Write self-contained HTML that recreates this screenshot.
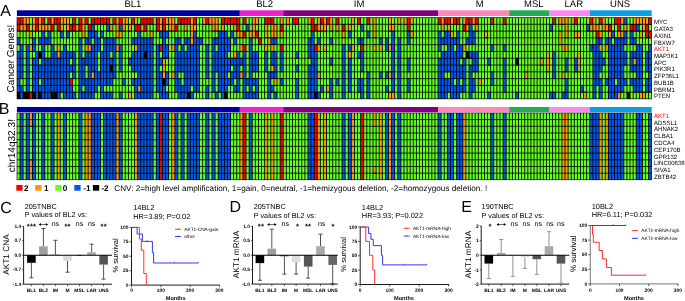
<!DOCTYPE html>
<html><head><meta charset="utf-8"><title>Figure</title>
<style>html,body{margin:0;padding:0;background:#fff;font-family:"Liberation Sans",sans-serif;}svg text{font-family:"Liberation Sans",sans-serif;}svg{will-change:transform;text-rendering:geometricPrecision}</style>
</head><body>
<svg width="685" height="301" viewBox="0 0 685 301" font-family="'Liberation Sans', sans-serif" style="display:block">
<rect width="685" height="301" fill="#fff"/>
<text x="0.2" y="15.7" font-size="16" text-anchor="start" font-weight="normal" fill="#000">A</text>
<rect x="16.9" y="10.3" width="222.95" height="5.7" fill="#0000a0"/>
<rect x="239.85" y="10.3" width="43.35" height="5.7" fill="#ee22cc"/>
<rect x="283.21" y="10.3" width="154.83" height="5.7" fill="#800080"/>
<rect x="438.04" y="10.3" width="71.22" height="5.7" fill="#ff88bb"/>
<rect x="509.26" y="10.3" width="40.26" height="5.7" fill="#22aa55"/>
<rect x="549.51" y="10.3" width="40.26" height="5.7" fill="#ff88ee"/>
<rect x="589.77" y="10.3" width="61.93" height="5.7" fill="#0a9ee2"/>
<rect x="16.7" y="17.3" width="635.2" height="81.9" fill="#000"/>
<path d="M18.45 17.9v12.78M21.54 17.9v5.99M27.74 24.69v5.99M30.83 92.61v5.99M37.03 17.9v12.78M43.22 17.9v5.99M49.41 17.9v5.99M52.51 24.69v5.99M55.61 17.9v5.99M58.7 17.9v12.78M71.09 24.69v5.99M71.09 79.03v5.99M74.19 17.9v12.78M80.38 17.9v12.78M86.57 17.9v5.99M89.67 24.69v5.99M92.77 17.9v5.99M95.86 17.9v5.99M98.96 17.9v5.99M102.06 17.9v5.99M105.15 17.9v5.99M108.25 17.9v5.99M114.44 17.9v5.99M120.64 17.9v5.99M133.02 17.9v5.99M136.12 24.69v5.99M139.22 24.69v5.99M142.31 17.9v5.99M145.41 17.9v12.78M148.5 17.9v5.99M151.6 17.9v5.99M157.79 17.9v12.78M160.89 45.07v5.99M163.99 17.9v12.78M176.37 24.69v5.99M179.47 17.9v5.99M182.57 17.9v5.99M185.66 17.9v5.99M188.76 17.9v5.99M194.95 17.9v5.99M207.34 17.9v5.99M222.82 17.9v5.99M225.92 17.9v5.99M229.02 17.9v5.99M232.11 17.9v5.99M235.21 17.9v5.99M238.31 17.9v12.78M244.5 17.9v5.99M244.5 31.48v5.99M244.5 45.07v5.99M256.89 31.48v5.99M259.98 38.27v5.99M266.18 17.9v5.99M269.27 17.9v5.99M272.37 17.9v5.99M281.66 24.69v5.99M281.66 45.07v5.99M294.04 17.9v5.99M297.14 17.9v5.99M312.62 17.9v12.78M315.72 24.69v5.99M315.72 45.07v5.99M321.91 17.9v5.99M328.11 17.9v5.99M337.4 17.9v5.99M343.59 24.69v5.99M359.07 17.9v5.99M362.17 45.07v5.99M368.36 17.9v5.99M408.62 17.9v12.78M439.58 17.9v5.99M445.78 17.9v5.99M448.87 17.9v5.99M455.07 17.9v5.99M458.16 17.9v5.99M464.36 24.69v5.99M467.45 17.9v5.99M470.55 17.9v5.99M476.74 17.9v5.99M492.23 17.9v5.99M504.61 17.9v5.99M554.16 17.9v5.99M575.83 17.9v5.99M591.32 17.9v5.99M597.51 31.48v5.99M600.61 17.9v5.99M609.9 24.69v5.99M616.09 17.9v5.99M619.19 17.9v12.78M631.57 24.69v5.99M634.67 24.69v5.99M647.06 24.69v12.78M650.15 17.9v5.99M650.15 31.48v5.99" stroke="#ff0000" stroke-width="2.25" fill="none"/>
<path d="M21.54 24.69v5.99M24.64 17.9v12.78M27.74 17.9v5.99M30.83 31.48v5.99M30.83 45.07v5.99M33.93 17.9v12.78M40.12 17.9v12.78M43.22 24.69v5.99M46.32 24.69v5.99M49.41 24.69v5.99M52.51 17.9v5.99M58.7 45.07v12.78M61.8 17.9v12.78M64.9 17.9v5.99M67.99 17.9v12.78M77.28 24.69v5.99M83.48 17.9v19.58M86.57 45.07v5.99M89.67 45.07v5.99M92.77 72.23v5.99M111.35 24.69v5.99M117.54 17.9v19.58M117.54 45.07v5.99M120.64 31.48v5.99M123.73 17.9v12.78M126.83 17.9v5.99M129.93 24.69v5.99M129.93 92.61v5.99M136.12 17.9v5.99M136.12 45.07v5.99M139.22 85.82v5.99M142.31 24.69v5.99M151.6 31.48v5.99M160.89 17.9v12.78M163.99 58.65v19.57M167.08 17.9v5.99M170.18 17.9v12.78M173.28 17.9v12.78M173.28 45.07v5.99M173.28 72.23v5.99M185.66 24.69v5.99M191.86 17.9v26.37M194.95 24.69v5.99M204.24 17.9v5.99M210.44 17.9v5.99M213.53 17.9v12.78M216.63 17.9v12.78M222.82 24.69v5.99M235.21 24.69v5.99M235.21 51.86v5.99M238.31 31.48v5.99M241.4 31.48v5.99M241.4 45.07v5.99M241.4 72.23v5.99M250.69 31.48v5.99M253.79 17.9v19.58M256.89 17.9v5.99M266.18 24.69v12.78M266.18 45.07v5.99M269.27 38.27v5.99M272.37 24.69v12.78M272.37 45.07v5.99M272.37 65.44v5.99M275.46 24.69v12.78M275.46 79.03v5.99M281.66 17.9v5.99M281.66 31.48v5.99M287.85 17.9v5.99M309.53 17.9v5.99M318.82 17.9v12.78M318.82 45.07v5.99M318.82 72.23v5.99M321.91 24.69v5.99M325.01 17.9v12.78M325.01 45.07v5.99M328.11 85.82v5.99M331.2 17.9v12.78M337.4 24.69v5.99M343.59 31.48v5.99M349.78 24.69v5.99M349.78 51.86v5.99M352.88 17.9v5.99M352.88 45.07v5.99M374.56 17.9v19.58M374.56 45.07v5.99M380.75 45.07v5.99M390.04 17.9v12.78M390.04 45.07v5.99M390.04 72.23v5.99M390.04 92.61v5.99M393.14 24.69v5.99M393.14 92.61v5.99M399.33 17.9v5.99M405.52 17.9v5.99M411.71 17.9v5.99M411.71 31.48v5.99M442.68 17.9v12.78M448.87 24.69v5.99M451.97 17.9v5.99M451.97 31.48v5.99M464.36 17.9v5.99M464.36 45.07v5.99M467.45 24.69v5.99M473.65 17.9v5.99M476.74 24.69v5.99M479.84 79.03v5.99M486.03 31.48v5.99M526.29 72.23v5.99M541.77 58.65v5.99M547.96 51.86v19.58M560.35 17.9v5.99M560.35 31.48v12.78M563.45 17.9v5.99M563.45 45.07v5.99M563.45 72.23v5.99M566.54 17.9v19.58M566.54 45.07v5.99M572.74 17.9v5.99M575.83 31.48v5.99M578.93 31.48v5.99M578.93 51.86v19.58M585.12 92.61v5.99M591.32 24.69v5.99M594.41 17.9v12.78M597.51 24.69v5.99M600.61 31.48v5.99M600.61 45.07v5.99M603.7 17.9v12.78M606.8 24.69v5.99M606.8 45.07v5.99M609.9 31.48v5.99M619.19 31.48v5.99M619.19 92.61v5.99M622.28 17.9v5.99M622.28 31.48v5.99M625.38 24.69v5.99M634.67 17.9v5.99M634.67 58.65v5.99M637.77 17.9v5.99M640.86 17.9v5.99M640.86 31.48v5.99M640.86 92.61v5.99M643.96 17.9v12.78M643.96 92.61v5.99M647.06 17.9v5.99" stroke="#ff9900" stroke-width="2.25" fill="none"/>
<path d="M18.45 31.48v5.99M18.45 45.07v5.99M21.54 31.48v12.78M21.54 79.03v5.99M24.64 31.48v60.33M27.74 31.48v12.78M30.83 17.9v12.78M30.83 38.27v5.99M30.83 51.86v39.95M33.93 31.48v5.99M33.93 51.86v5.99M37.03 31.48v19.58M40.12 31.48v5.99M40.12 45.07v5.99M40.12 58.65v5.99M40.12 79.03v5.99M46.32 17.9v5.99M46.32 31.48v5.99M46.32 45.07v12.78M49.41 45.07v12.78M52.51 31.48v12.78M55.61 24.69v26.37M58.7 31.48v12.78M61.8 38.27v12.78M61.8 92.61v5.99M64.9 24.69v19.58M67.99 38.27v12.78M71.09 17.9v5.99M71.09 31.48v19.58M71.09 58.65v5.99M71.09 72.23v5.99M74.19 31.48v19.58M74.19 79.03v12.78M77.28 17.9v5.99M77.28 31.48v67.12M80.38 31.48v5.99M83.48 38.27v19.58M83.48 85.82v5.99M86.57 24.69v12.78M86.57 65.44v12.78M89.67 17.9v5.99M92.77 38.27v5.99M95.86 24.69v5.99M95.86 92.61v5.99M98.96 24.69v12.78M98.96 51.86v19.58M98.96 85.82v12.78M102.06 24.69v5.99M102.06 38.27v12.78M105.15 24.69v12.78M105.15 85.82v5.99M108.25 31.48v5.99M108.25 85.82v5.99M111.35 17.9v5.99M111.35 31.48v5.99M111.35 51.86v5.99M111.35 85.82v5.99M114.44 24.69v12.78M114.44 79.03v19.57M117.54 38.27v5.99M117.54 51.86v46.74M120.64 38.27v5.99M120.64 72.23v19.57M123.73 31.48v46.74M123.73 85.82v12.78M126.83 24.69v73.91M129.93 17.9v5.99M129.93 31.48v26.37M129.93 65.44v26.37M133.02 24.69v12.78M133.02 45.07v5.99M133.02 72.23v5.99M133.02 85.82v12.78M136.12 31.48v5.99M136.12 72.23v5.99M139.22 17.9v5.99M142.31 31.48v5.99M145.41 31.48v5.99M148.5 24.69v12.78M151.6 24.69v5.99M154.7 17.9v80.7M157.79 31.48v12.78M157.79 92.61v5.99M160.89 38.27v5.99M160.89 51.86v5.99M160.89 65.44v5.99M167.08 24.69v5.99M167.08 38.27v5.99M167.08 58.65v12.78M167.08 85.82v5.99M170.18 31.48v67.12M173.28 31.48v12.78M173.28 51.86v19.58M173.28 79.03v19.57M176.37 17.9v5.99M176.37 31.48v5.99M176.37 92.61v5.99M179.47 24.69v12.78M179.47 45.07v5.99M179.47 72.23v5.99M182.57 24.69v19.58M182.57 72.23v12.78M185.66 31.48v5.99M185.66 45.07v5.99M188.76 24.69v12.78M191.86 85.82v5.99M194.95 92.61v5.99M198.05 17.9v19.58M198.05 92.61v5.99M201.15 17.9v19.58M201.15 45.07v53.53M204.24 24.69v73.91M207.34 24.69v19.58M207.34 79.03v5.99M210.44 24.69v73.91M213.53 31.48v5.99M213.53 92.61v5.99M216.63 31.48v5.99M216.63 45.07v5.99M216.63 72.23v19.57M219.73 17.9v12.78M219.73 92.61v5.99M225.92 24.69v5.99M229.02 24.69v12.78M229.02 51.86v5.99M229.02 72.23v5.99M229.02 85.82v12.78M232.11 24.69v5.99M232.11 38.27v19.58M232.11 65.44v5.99M232.11 85.82v12.78M235.21 31.48v5.99M235.21 45.07v5.99M235.21 79.03v5.99M235.21 92.61v5.99M238.31 38.27v12.78M238.31 92.61v5.99M241.4 17.9v12.78M241.4 38.27v5.99M241.4 51.86v5.99M241.4 65.44v5.99M241.4 79.03v19.57M244.5 24.69v5.99M244.5 38.27v5.99M247.6 17.9v5.99M247.6 31.48v46.74M247.6 85.82v5.99M250.69 17.9v12.78M253.79 38.27v12.78M253.79 72.23v5.99M253.79 85.82v5.99M256.89 24.69v5.99M256.89 38.27v12.78M256.89 72.23v5.99M259.98 17.9v19.58M259.98 45.07v53.53M263.08 17.9v80.7M266.18 38.27v5.99M266.18 72.23v26.37M269.27 24.69v12.78M269.27 45.07v26.37M272.37 79.03v5.99M272.37 92.61v5.99M275.46 17.9v5.99M275.46 45.07v5.99M275.46 85.82v5.99M278.56 17.9v80.7M281.66 38.27v5.99M281.66 72.23v5.99M281.66 85.82v12.78M284.75 17.9v80.7M287.85 24.69v73.91M290.95 17.9v80.7M294.04 24.69v73.91M297.14 24.69v26.37M297.14 58.65v5.99M297.14 72.23v5.99M300.24 17.9v80.7M303.33 17.9v80.7M306.43 17.9v80.7M309.53 24.69v12.78M309.53 58.65v5.99M315.72 17.9v5.99M315.72 31.48v12.78M318.82 31.48v5.99M318.82 51.86v19.58M318.82 79.03v12.78M321.91 31.48v53.53M321.91 92.61v5.99M325.01 31.48v12.78M325.01 51.86v46.74M328.11 24.69v60.33M328.11 92.61v5.99M331.2 31.48v5.99M331.2 45.07v12.78M331.2 65.44v12.78M334.3 17.9v80.7M337.4 31.48v46.74M337.4 85.82v12.78M340.49 17.9v80.7M343.59 17.9v5.99M343.59 38.27v5.99M346.69 17.9v80.7M349.78 17.9v5.99M349.78 38.27v5.99M349.78 92.61v5.99M352.88 24.69v19.58M352.88 51.86v46.74M355.98 17.9v80.7M359.07 24.69v12.78M359.07 45.07v5.99M359.07 58.65v19.57M359.07 92.61v5.99M362.17 17.9v5.99M362.17 31.48v5.99M362.17 72.23v5.99M365.27 17.9v80.7M368.36 24.69v5.99M368.36 38.27v33.16M371.46 17.9v80.7M374.56 38.27v5.99M374.56 51.86v46.74M377.65 17.9v80.7M380.75 17.9v19.58M380.75 51.86v19.58M380.75 79.03v19.57M383.85 17.9v80.7M386.94 17.9v19.58M386.94 51.86v19.58M386.94 79.03v5.99M386.94 92.61v5.99M390.04 31.48v12.78M390.04 51.86v19.58M390.04 79.03v12.78M393.14 17.9v5.99M396.23 17.9v80.7M399.33 24.69v12.78M402.42 17.9v80.7M405.52 24.69v73.91M408.62 45.07v12.78M408.62 72.23v5.99M408.62 92.61v5.99M411.71 24.69v5.99M411.71 38.27v60.32M414.81 17.9v80.7M417.91 17.9v80.7M421 17.9v80.7M424.1 17.9v80.7M427.2 17.9v80.7M430.29 17.9v80.7M433.39 17.9v80.7M436.49 17.9v80.7M439.58 24.69v5.99M439.58 51.86v5.99M442.68 31.48v5.99M442.68 45.07v5.99M445.78 24.69v5.99M445.78 45.07v5.99M445.78 72.23v5.99M448.87 72.23v5.99M448.87 92.61v5.99M451.97 24.69v5.99M455.07 24.69v12.78M455.07 45.07v5.99M455.07 79.03v5.99M458.16 24.69v5.99M461.26 17.9v26.37M461.26 58.65v5.99M461.26 79.03v5.99M461.26 92.61v5.99M464.36 31.48v12.78M464.36 51.86v5.99M464.36 92.61v5.99M467.45 31.48v5.99M467.45 45.07v5.99M467.45 58.65v39.95M470.55 45.07v5.99M470.55 58.65v5.99M473.65 24.69v5.99M473.65 45.07v5.99M473.65 72.23v5.99M473.65 92.61v5.99M476.74 31.48v19.58M476.74 72.23v26.37M479.84 17.9v60.32M479.84 85.82v12.78M482.94 17.9v80.7M486.03 17.9v12.78M486.03 38.27v60.32M489.13 17.9v39.95M489.13 65.44v26.37M492.23 24.69v19.58M492.23 51.86v19.58M492.23 85.82v12.78M495.32 17.9v80.7M498.42 17.9v80.7M501.52 17.9v80.7M504.61 24.69v19.58M504.61 51.86v5.99M504.61 92.61v5.99M507.71 17.9v80.7M510.81 17.9v80.7M513.9 17.9v80.7M517 17.9v39.95M517 65.44v26.37M520.1 17.9v80.7M523.19 17.9v80.7M526.29 17.9v53.53M526.29 79.03v19.57M529.38 17.9v80.7M532.48 17.9v80.7M535.58 17.9v80.7M538.67 17.9v80.7M541.77 17.9v39.95M541.77 65.44v33.16M544.87 17.9v80.7M547.96 17.9v33.16M547.96 72.23v26.37M551.06 17.9v5.99M551.06 31.48v60.33M554.16 24.69v26.37M554.16 79.03v12.78M557.25 17.9v80.7M560.35 24.69v5.99M560.35 45.07v53.53M563.45 24.69v19.58M563.45 51.86v19.58M563.45 79.03v12.78M566.54 38.27v5.99M566.54 51.86v5.99M566.54 72.23v5.99M569.64 17.9v80.7M572.74 24.69v73.91M575.83 24.69v5.99M575.83 38.27v19.58M575.83 72.23v26.37M578.93 17.9v12.78M578.93 38.27v12.78M578.93 72.23v26.37M582.03 17.9v67.12M582.03 92.61v5.99M585.12 17.9v73.91M588.22 17.9v5.99M588.22 31.48v67.12M591.32 31.48v12.78M591.32 51.86v46.74M594.41 31.48v12.78M597.51 17.9v5.99M597.51 85.82v12.78M600.61 24.69v5.99M600.61 72.23v5.99M603.7 31.48v26.37M603.7 65.44v33.16M606.8 17.9v5.99M606.8 31.48v5.99M606.8 51.86v26.37M606.8 85.82v12.78M609.9 17.9v5.99M612.99 17.9v12.78M612.99 38.27v5.99M616.09 24.69v12.78M616.09 79.03v5.99M622.28 24.69v5.99M622.28 92.61v5.99M625.38 45.07v5.99M625.38 65.44v12.78M625.38 85.82v12.78M628.48 17.9v73.91M631.57 17.9v5.99M631.57 45.07v5.99M631.57 72.23v5.99M631.57 85.82v12.78M634.67 31.48v5.99M634.67 45.07v5.99M634.67 72.23v5.99M634.67 92.61v5.99M637.77 31.48v12.78M637.77 92.61v5.99M640.86 24.69v5.99M640.86 38.27v5.99M643.96 31.48v60.33M647.06 38.27v12.78M647.06 72.23v5.99M647.06 92.61v5.99M650.15 24.69v5.99M650.15 38.27v5.99M650.15 92.61v5.99" stroke="#66ff22" stroke-width="2.25" fill="none"/>
<path d="M18.45 38.27v5.99M18.45 51.86v39.95M21.54 45.07v33.16M21.54 85.82v12.78M27.74 45.07v46.74M33.93 38.27v12.78M33.93 58.65v33.16M37.03 51.86v46.74M40.12 38.27v5.99M40.12 65.44v12.78M40.12 85.82v5.99M43.22 31.48v67.12M46.32 38.27v5.99M46.32 58.65v39.95M49.41 31.48v12.78M49.41 58.65v39.95M52.51 45.07v46.74M55.61 51.86v39.95M58.7 58.65v39.95M61.8 31.48v5.99M61.8 51.86v39.95M64.9 45.07v53.53M67.99 31.48v5.99M67.99 51.86v46.74M71.09 51.86v5.99M71.09 65.44v5.99M71.09 85.82v12.78M74.19 51.86v26.37M74.19 92.61v5.99M80.38 38.27v60.32M83.48 58.65v26.37M83.48 92.61v5.99M86.57 38.27v5.99M86.57 51.86v12.78M86.57 79.03v19.57M89.67 31.48v12.78M89.67 51.86v46.74M92.77 24.69v12.78M92.77 45.07v26.37M92.77 79.03v19.57M95.86 31.48v60.33M98.96 38.27v12.78M98.96 72.23v12.78M102.06 31.48v5.99M102.06 51.86v46.74M105.15 38.27v46.74M105.15 92.61v5.99M108.25 24.69v5.99M108.25 38.27v46.74M108.25 92.61v5.99M111.35 38.27v12.78M111.35 58.65v5.99M111.35 72.23v12.78M111.35 92.61v5.99M114.44 38.27v39.95M120.64 24.69v5.99M120.64 45.07v26.37M120.64 92.61v5.99M123.73 79.03v5.99M129.93 58.65v5.99M133.02 38.27v5.99M133.02 51.86v19.58M133.02 79.03v5.99M136.12 38.27v5.99M136.12 51.86v19.58M136.12 79.03v19.57M139.22 31.48v53.53M139.22 92.61v5.99M142.31 38.27v60.32M145.41 38.27v12.78M145.41 58.65v39.95M148.5 38.27v60.32M151.6 38.27v60.32M157.79 45.07v46.74M160.89 31.48v5.99M160.89 58.65v5.99M160.89 72.23v26.37M163.99 31.48v26.37M163.99 85.82v12.78M167.08 31.48v5.99M167.08 45.07v12.78M167.08 72.23v12.78M167.08 92.61v5.99M176.37 38.27v53.53M179.47 38.27v5.99M179.47 51.86v19.58M179.47 79.03v19.57M182.57 45.07v26.37M182.57 85.82v12.78M185.66 38.27v5.99M185.66 51.86v46.74M188.76 38.27v53.53M191.86 45.07v39.95M191.86 92.61v5.99M194.95 31.48v60.33M198.05 38.27v53.53M201.15 38.27v5.99M207.34 45.07v33.16M207.34 85.82v12.78M213.53 38.27v53.53M216.63 38.27v5.99M216.63 51.86v19.58M216.63 92.61v5.99M219.73 31.48v60.33M222.82 31.48v67.12M225.92 31.48v60.33M229.02 38.27v12.78M229.02 58.65v12.78M229.02 79.03v5.99M232.11 31.48v5.99M232.11 58.65v5.99M232.11 72.23v12.78M235.21 38.27v5.99M235.21 58.65v19.57M235.21 85.82v5.99M238.31 51.86v39.95M241.4 58.65v5.99M244.5 51.86v46.74M247.6 24.69v5.99M247.6 79.03v5.99M247.6 92.61v5.99M250.69 38.27v60.32M253.79 51.86v19.58M253.79 79.03v5.99M253.79 92.61v5.99M256.89 51.86v19.58M256.89 79.03v19.57M266.18 51.86v19.58M269.27 72.23v26.37M272.37 38.27v5.99M272.37 51.86v12.78M272.37 72.23v5.99M272.37 85.82v5.99M275.46 38.27v5.99M275.46 51.86v26.37M275.46 92.61v5.99M281.66 51.86v19.58M281.66 79.03v5.99M297.14 51.86v5.99M297.14 65.44v5.99M297.14 79.03v19.57M309.53 38.27v19.58M309.53 65.44v33.16M312.62 31.48v67.12M315.72 51.86v39.95M318.82 38.27v5.99M318.82 92.61v5.99M321.91 85.82v5.99M331.2 38.27v5.99M331.2 58.65v5.99M331.2 79.03v19.57M337.4 79.03v5.99M343.59 45.07v53.53M349.78 31.48v5.99M349.78 45.07v5.99M349.78 58.65v33.16M359.07 38.27v5.99M359.07 51.86v5.99M359.07 79.03v12.78M362.17 24.69v5.99M362.17 38.27v5.99M362.17 51.86v19.58M362.17 79.03v19.57M368.36 31.48v5.99M368.36 72.23v26.37M380.75 38.27v5.99M380.75 72.23v5.99M386.94 38.27v12.78M386.94 72.23v5.99M386.94 85.82v5.99M393.14 31.48v60.33M399.33 38.27v60.32M408.62 31.48v12.78M408.62 58.65v12.78M408.62 79.03v12.78M439.58 31.48v19.58M439.58 58.65v39.95M442.68 38.27v5.99M442.68 51.86v46.74M445.78 31.48v12.78M445.78 51.86v19.58M445.78 79.03v19.57M448.87 31.48v39.95M448.87 79.03v12.78M451.97 38.27v60.32M455.07 38.27v5.99M455.07 51.86v26.37M455.07 85.82v12.78M458.16 31.48v67.12M461.26 45.07v12.78M461.26 65.44v12.78M461.26 85.82v5.99M464.36 58.65v33.16M467.45 38.27v5.99M470.55 24.69v19.58M470.55 51.86v5.99M470.55 65.44v33.16M473.65 31.48v12.78M473.65 51.86v19.58M473.65 79.03v12.78M476.74 51.86v19.58M489.13 58.65v5.99M489.13 92.61v5.99M492.23 45.07v5.99M492.23 72.23v12.78M504.61 45.07v5.99M504.61 58.65v33.16M517 92.61v5.99M551.06 24.69v5.99M551.06 92.61v5.99M554.16 51.86v26.37M554.16 92.61v5.99M563.45 92.61v5.99M566.54 58.65v12.78M566.54 79.03v19.57M575.83 58.65v12.78M582.03 85.82v5.99M588.22 24.69v5.99M591.32 45.07v5.99M594.41 45.07v53.53M597.51 38.27v46.74M600.61 38.27v5.99M600.61 51.86v19.58M600.61 79.03v19.57M603.7 58.65v5.99M606.8 38.27v5.99M606.8 79.03v5.99M609.9 38.27v60.32M612.99 31.48v5.99M612.99 45.07v53.53M616.09 38.27v39.95M616.09 85.82v12.78M619.19 38.27v53.53M622.28 38.27v53.53M625.38 17.9v5.99M625.38 31.48v12.78M625.38 51.86v12.78M625.38 79.03v5.99M631.57 31.48v12.78M631.57 51.86v19.58M631.57 79.03v5.99M634.67 38.27v5.99M634.67 51.86v5.99M634.67 65.44v5.99M634.67 79.03v12.78M637.77 24.69v5.99M637.77 45.07v46.74M640.86 45.07v46.74M647.06 51.86v19.58M647.06 79.03v12.78M650.15 45.07v46.74" stroke="#0058f0" stroke-width="2.25" fill="none"/>
<path d="M16.9 24.29H651.7M16.9 31.08H651.7M16.9 37.88H651.7M16.9 44.67H651.7M16.9 51.46H651.7M16.9 58.25H651.7M16.9 65.04H651.7M16.9 71.83H651.7M16.9 78.62H651.7M16.9 85.42H651.7M16.9 92.21H651.7" stroke="#000" stroke-width="0.8" fill="none"/>
<text transform="translate(14.3 58.6) rotate(-90)" font-size="10.05" text-anchor="middle" font-weight="normal">Cancer Genes!</text>
<text x="132.9" y="7.4" font-size="9.5" text-anchor="middle" font-weight="normal" fill="#000">BL1</text>
<text x="264.6" y="7.4" font-size="9.5" text-anchor="middle" font-weight="normal" fill="#000">BL2</text>
<text x="359.1" y="7.4" font-size="9.5" text-anchor="middle" font-weight="normal" fill="#000">IM</text>
<text x="479.6" y="7.4" font-size="9.5" text-anchor="middle" font-weight="normal" fill="#000">M</text>
<text x="533.8" y="7.4" font-size="9.5" text-anchor="middle" font-weight="normal" fill="#000">MSL</text>
<text x="573.8" y="7.4" font-size="9.5" text-anchor="middle" font-weight="normal" fill="#000">LAR</text>
<text x="620.1" y="7.4" font-size="9.5" text-anchor="middle" font-weight="normal" fill="#000">UNS</text>
<text x="654" y="24.3" font-size="6.05" text-anchor="start" font-weight="normal" fill="#000">MYC</text>
<text x="654" y="31.04" font-size="6.05" text-anchor="start" font-weight="normal" fill="#000">GATA3</text>
<text x="654" y="37.78" font-size="6.05" text-anchor="start" font-weight="normal" fill="#000">AXIN1</text>
<text x="654" y="44.52" font-size="6.05" text-anchor="start" font-weight="normal" fill="#000">FBXW7</text>
<text x="654" y="51.26" font-size="6.05" text-anchor="start" font-weight="normal" fill="#ff0000">AKT1</text>
<text x="654" y="58" font-size="6.05" text-anchor="start" font-weight="normal" fill="#000">MAP3K1</text>
<text x="654" y="64.74" font-size="6.05" text-anchor="start" font-weight="normal" fill="#000">APC</text>
<text x="654" y="71.48" font-size="6.05" text-anchor="start" font-weight="normal" fill="#000">PIK3R1</text>
<text x="654" y="78.22" font-size="6.05" text-anchor="start" font-weight="normal" fill="#000">ZFP36L1</text>
<text x="654" y="84.96" font-size="6.05" text-anchor="start" font-weight="normal" fill="#000">BUB1B</text>
<text x="654" y="91.7" font-size="6.05" text-anchor="start" font-weight="normal" fill="#000">PBRM1</text>
<text x="654" y="98.44" font-size="6.05" text-anchor="start" font-weight="normal" fill="#000">PTEN</text>
<text x="-1.2" y="114.1" font-size="16" text-anchor="start" font-weight="normal" fill="#000">B</text>
<rect x="16.9" y="107" width="222.95" height="5.2" fill="#0000a0"/>
<rect x="239.85" y="107" width="43.35" height="5.2" fill="#ee22cc"/>
<rect x="283.21" y="107" width="154.83" height="5.2" fill="#800080"/>
<rect x="438.04" y="107" width="71.22" height="5.2" fill="#ff88bb"/>
<rect x="509.26" y="107" width="40.26" height="5.2" fill="#22aa55"/>
<rect x="549.51" y="107" width="40.26" height="5.2" fill="#ff88ee"/>
<rect x="589.77" y="107" width="61.93" height="5.2" fill="#0a9ee2"/>
<rect x="16.7" y="112.7" width="635.2" height="67.4" fill="#000"/>
<path d="M160.89 113.3v66.2M244.5 113.3v66.2M281.66 113.3v66.2M315.72 113.3v66.2M362.17 113.3v66.2" stroke="#ff0000" stroke-width="2.25" fill="none"/>
<path d="M30.83 113.3v12.6M30.83 160.2v19.3M58.7 113.3v66.2M86.57 113.3v66.2M89.67 113.3v66.2M117.54 113.3v66.2M136.12 113.3v66.2M173.28 113.3v66.2M241.4 113.3v66.2M266.18 113.3v66.2M272.37 113.3v66.2M318.82 113.3v66.2M325.01 113.3v66.2M352.88 113.3v66.2M374.56 113.3v12.6M374.56 166.9v5.9M380.75 113.3v66.2M390.04 113.3v66.2M464.36 113.3v66.2M563.45 113.3v66.2M566.54 113.3v66.2M600.61 113.3v66.2M606.8 113.3v66.2" stroke="#ff9900" stroke-width="2.25" fill="none"/>
<path d="M18.45 113.3v66.2M24.64 113.3v66.2M30.83 126.7v32.7M37.03 113.3v66.2M40.12 113.3v66.2M46.32 113.3v66.2M49.41 113.3v66.2M55.61 113.3v66.2M61.8 113.3v66.2M67.99 113.3v66.2M71.09 113.3v66.2M74.19 113.3v66.2M77.28 113.3v66.2M83.48 113.3v66.2M102.06 113.3v66.2M123.73 113.3v66.2M126.83 113.3v66.2M129.93 113.3v66.2M133.02 113.3v66.2M154.7 113.3v66.2M170.18 113.3v66.2M179.47 113.3v66.2M185.66 113.3v66.2M201.15 113.3v66.2M204.24 113.3v66.2M210.44 113.3v66.2M216.63 113.3v66.2M232.11 113.3v66.2M235.21 113.3v66.2M238.31 113.3v66.2M247.6 113.3v66.2M253.79 113.3v66.2M256.89 113.3v66.2M259.98 113.3v66.2M263.08 113.3v66.2M269.27 113.3v66.2M275.46 113.3v66.2M278.56 113.3v66.2M284.75 113.3v66.2M287.85 113.3v66.2M290.95 113.3v66.2M294.04 113.3v66.2M297.14 113.3v66.2M300.24 113.3v66.2M303.33 113.3v66.2M306.43 113.3v66.2M321.91 113.3v66.2M328.11 113.3v66.2M331.2 113.3v66.2M334.3 113.3v66.2M337.4 113.3v66.2M340.49 113.3v66.2M346.69 113.3v66.2M355.98 113.3v66.2M359.07 113.3v66.2M365.27 113.3v66.2M368.36 113.3v66.2M371.46 113.3v66.2M374.56 126.7v39.4M374.56 173.6v5.9M377.65 113.3v66.2M383.85 113.3v66.2M396.23 113.3v66.2M402.42 113.3v66.2M405.52 113.3v66.2M408.62 113.3v66.2M411.71 113.3v66.2M414.81 113.3v66.2M417.91 113.3v66.2M421 113.3v66.2M424.1 113.3v66.2M427.2 113.3v66.2M430.29 113.3v66.2M433.39 113.3v66.2M436.49 113.3v66.2M442.68 113.3v66.2M445.78 113.3v66.2M455.07 113.3v66.2M467.45 113.3v66.2M470.55 113.3v66.2M473.65 113.3v66.2M476.74 113.3v66.2M479.84 113.3v66.2M482.94 113.3v66.2M486.03 113.3v66.2M489.13 113.3v66.2M495.32 113.3v66.2M498.42 113.3v66.2M501.52 113.3v66.2M507.71 113.3v66.2M510.81 113.3v66.2M513.9 113.3v66.2M517 113.3v66.2M520.1 113.3v66.2M523.19 113.3v66.2M526.29 113.3v66.2M529.38 113.3v66.2M532.48 113.3v66.2M535.58 113.3v66.2M538.67 113.3v66.2M541.77 113.3v66.2M544.87 113.3v66.2M547.96 113.3v66.2M551.06 113.3v66.2M554.16 113.3v66.2M557.25 113.3v66.2M560.35 113.3v66.2M569.64 113.3v66.2M572.74 113.3v66.2M575.83 113.3v66.2M578.93 113.3v66.2M582.03 113.3v66.2M585.12 113.3v66.2M588.22 113.3v66.2M603.7 113.3v66.2M625.38 113.3v66.2M628.48 113.3v66.2M631.57 113.3v66.2M634.67 113.3v66.2M643.96 113.3v66.2M647.06 113.3v66.2" stroke="#66ff22" stroke-width="2.25" fill="none"/>
<path d="M21.54 113.3v66.2M27.74 113.3v66.2M33.93 113.3v66.2M43.22 113.3v66.2M52.51 113.3v66.2M64.9 113.3v66.2M80.38 113.3v66.2M92.77 113.3v66.2M95.86 113.3v66.2M98.96 113.3v66.2M105.15 113.3v66.2M108.25 113.3v66.2M111.35 113.3v66.2M114.44 113.3v66.2M120.64 113.3v66.2M139.22 113.3v66.2M142.31 113.3v66.2M145.41 113.3v66.2M148.5 113.3v66.2M151.6 113.3v66.2M157.79 113.3v66.2M163.99 113.3v66.2M167.08 113.3v66.2M176.37 113.3v66.2M182.57 113.3v66.2M188.76 113.3v66.2M191.86 113.3v66.2M194.95 113.3v66.2M198.05 113.3v66.2M207.34 113.3v66.2M213.53 113.3v66.2M219.73 113.3v66.2M222.82 113.3v66.2M225.92 113.3v66.2M229.02 113.3v66.2M250.69 113.3v66.2M309.53 113.3v66.2M312.62 113.3v66.2M343.59 113.3v66.2M349.78 113.3v66.2M386.94 113.3v66.2M393.14 113.3v66.2M399.33 113.3v66.2M439.58 113.3v66.2M448.87 113.3v66.2M451.97 113.3v66.2M458.16 113.3v66.2M461.26 113.3v66.2M492.23 113.3v66.2M504.61 113.3v66.2M591.32 113.3v66.2M594.41 113.3v66.2M597.51 113.3v66.2M609.9 113.3v66.2M612.99 113.3v66.2M616.09 113.3v66.2M619.19 113.3v66.2M622.28 113.3v66.2M637.77 113.3v66.2M640.86 113.3v66.2M650.15 113.3v66.2" stroke="#0058f0" stroke-width="2.25" fill="none"/>
<path d="M16.9 119.6H651.7M16.9 126.3H651.7M16.9 133H651.7M16.9 139.7H651.7M16.9 146.4H651.7M16.9 153.1H651.7M16.9 159.8H651.7M16.9 166.5H651.7M16.9 173.2H651.7" stroke="#000" stroke-width="0.8" fill="none"/>
<text transform="translate(14.5 145.7) rotate(-90)" font-size="10.1" text-anchor="middle" font-weight="normal">chr14q32.3!</text>
<text x="654" y="117.9" font-size="6.05" text-anchor="start" font-weight="normal" fill="#ff0000">AKT1</text>
<text x="654" y="124.67" font-size="6.05" text-anchor="start" font-weight="normal" fill="#000">ADSSL1</text>
<text x="654" y="131.44" font-size="6.05" text-anchor="start" font-weight="normal" fill="#000">AHNAK2</text>
<text x="654" y="138.21" font-size="6.05" text-anchor="start" font-weight="normal" fill="#000">CLBA1</text>
<text x="654" y="144.98" font-size="6.05" text-anchor="start" font-weight="normal" fill="#000">CDCA4</text>
<text x="654" y="151.75" font-size="6.05" text-anchor="start" font-weight="normal" fill="#000">CEP170B</text>
<text x="654" y="158.52" font-size="6.05" text-anchor="start" font-weight="normal" fill="#000">GPR132</text>
<text x="654" y="165.29" font-size="6.05" text-anchor="start" font-weight="normal" fill="#000">LINC00638</text>
<text x="654" y="172.06" font-size="6.05" text-anchor="start" font-weight="normal" fill="#000">SIVA1</text>
<text x="654" y="178.83" font-size="6.05" text-anchor="start" font-weight="normal" fill="#000">ZBTB42</text>
<rect x="16.3" y="185" width="6.3" height="5.7" fill="#ff0000"/>
<text x="23.9" y="190.7" font-size="8.2" text-anchor="start" font-weight="bold" fill="#000">2</text>
<rect x="35.2" y="185" width="6.3" height="5.7" fill="#ff9900"/>
<text x="44" y="190.7" font-size="8.2" text-anchor="start" font-weight="bold" fill="#000">1</text>
<rect x="55.3" y="185" width="6.3" height="5.7" fill="#66ff22"/>
<text x="62.7" y="190.7" font-size="8.2" text-anchor="start" font-weight="bold" fill="#000">0</text>
<rect x="74.3" y="185" width="6.3" height="5.7" fill="#0058f0"/>
<text x="83.3" y="190.7" font-size="8.2" text-anchor="start" font-weight="bold" fill="#000">-1</text>
<rect x="92.9" y="185" width="6.3" height="5.7" fill="#000"/>
<text x="101.4" y="190.7" font-size="8.2" text-anchor="start" font-weight="bold" fill="#000">-2</text>
<text x="114.3" y="190.6" font-size="8.18" text-anchor="start" font-weight="normal" fill="#000">CNV: 2=high level amplification, 1=gain, 0=neutral, -1=hemizygous deletion, -2=homozygous deletion. !</text>
<text x="0.2" y="213" font-size="16" text-anchor="start" font-weight="normal" fill="#000">C</text>
<text x="24.7" y="209" font-size="7.3" text-anchor="start" font-weight="normal" fill="#000">205TNBC</text>
<text x="24.7" y="217.4" font-size="7.3" text-anchor="start" font-weight="normal" fill="#000">P values of BL2 vs:</text>
<text transform="translate(9.3 254.5) rotate(-90)" font-size="8.3" text-anchor="middle" font-weight="normal">AKT1 CNA</text>
<path d="M23.6 226.1V284.2H112" stroke="#000" stroke-width="0.9" fill="none"/>
<path d="M22 226.3H23.6" stroke="#000" stroke-width="0.6"/>
<text x="21.2" y="227.95" font-size="4.9" text-anchor="end" font-weight="bold" fill="#000">1.4</text>
<path d="M22 240.7H23.6" stroke="#000" stroke-width="0.6"/>
<text x="21.2" y="242.35" font-size="4.9" text-anchor="end" font-weight="bold" fill="#000">0.7</text>
<path d="M22 255.2H23.6" stroke="#000" stroke-width="0.6"/>
<text x="21.2" y="256.85" font-size="4.9" text-anchor="end" font-weight="bold" fill="#000">0.0</text>
<path d="M22 269.6H23.6" stroke="#000" stroke-width="0.6"/>
<text x="21.2" y="271.25" font-size="4.9" text-anchor="end" font-weight="bold" fill="#000">-0.7</text>
<path d="M22 284.2H23.6" stroke="#000" stroke-width="0.6"/>
<text x="21.2" y="285.85" font-size="4.9" text-anchor="end" font-weight="bold" fill="#000">-1.4</text>
<path d="M31.4 262.8V277.8M29.4 277.8H33.4" stroke="#333" stroke-width="0.85" fill="none"/>
<rect x="27.1" y="255.2" width="8.6" height="7.6" fill="#000"/>
<path d="M31.4 284.2v2" stroke="#000" stroke-width="0.6"/>
<text x="31.4" y="291.8" font-size="4.9" text-anchor="middle" font-weight="bold" fill="#000">BL1</text>
<text x="28.2" y="228.5" font-size="7.6" text-anchor="middle" font-weight="bold" fill="#000">*</text>
<text x="31.4" y="228.5" font-size="7.6" text-anchor="middle" font-weight="bold" fill="#000">*</text>
<text x="34.6" y="228.5" font-size="7.6" text-anchor="middle" font-weight="bold" fill="#000">*</text>
<path d="M43.4 246.3V228.5M41.4 228.5H45.4" stroke="#333" stroke-width="0.85" fill="none"/>
<rect x="39.1" y="246.3" width="8.6" height="8.9" fill="#9e9ea3"/>
<path d="M43.4 284.2v2" stroke="#000" stroke-width="0.6"/>
<text x="43.4" y="291.8" font-size="4.9" text-anchor="middle" font-weight="bold" fill="#000">BL2</text>
<path d="M39.8 224.5H47" stroke="#000" stroke-width="0.6"/><path d="M38.7 224.5l2.2 -1.5v3zM48.1 224.5l-2.2 -1.5v3z" fill="#000"/>
<path d="M55.4 254.6V240.3M53.4 240.3H57.4" stroke="#333" stroke-width="0.85" fill="none"/>
<rect x="51.1" y="254.6" width="8.6" height="0.6" fill="#888"/>
<path d="M55.4 284.2v2" stroke="#000" stroke-width="0.6"/>
<text x="55.4" y="291.8" font-size="4.9" text-anchor="middle" font-weight="bold" fill="#000">IM</text>
<text x="55.4" y="225.8" font-size="7" text-anchor="middle" font-weight="normal" fill="#000">ns</text>
<path d="M67.5 260.9V272.2M65.5 272.2H69.5" stroke="#333" stroke-width="0.85" fill="none"/>
<rect x="63.2" y="255.2" width="8.6" height="5.7" fill="#dcdcdc"/>
<path d="M67.5 284.2v2" stroke="#000" stroke-width="0.6"/>
<text x="67.5" y="291.8" font-size="4.9" text-anchor="middle" font-weight="bold" fill="#000">M</text>
<text x="65.9" y="228.5" font-size="7.6" text-anchor="middle" font-weight="bold" fill="#000">*</text>
<text x="69.1" y="228.5" font-size="7.6" text-anchor="middle" font-weight="bold" fill="#000">*</text>
<path d="M79.5 255.4V255.4M77.5 255.4H81.5" stroke="#333" stroke-width="0.85" fill="none"/>
<rect x="75.2" y="255.2" width="8.6" height="0.3" fill="#888"/>
<path d="M79.5 284.2v2" stroke="#000" stroke-width="0.6"/>
<text x="79.5" y="291.8" font-size="4.9" text-anchor="middle" font-weight="bold" fill="#000">MSL</text>
<text x="79.5" y="225.8" font-size="7" text-anchor="middle" font-weight="normal" fill="#000">ns</text>
<path d="M91.6 252.2V244.2M89.6 244.2H93.6" stroke="#333" stroke-width="0.85" fill="none"/>
<rect x="87.3" y="252.2" width="8.6" height="3" fill="#aaaaaa"/>
<path d="M91.6 284.2v2" stroke="#000" stroke-width="0.6"/>
<text x="91.6" y="291.8" font-size="4.9" text-anchor="middle" font-weight="bold" fill="#000">LAR</text>
<text x="91.6" y="225.8" font-size="7" text-anchor="middle" font-weight="normal" fill="#000">ns</text>
<path d="M103.6 264.6V279.1M101.6 279.1H105.6" stroke="#333" stroke-width="0.85" fill="none"/>
<rect x="99.3" y="255.2" width="8.6" height="9.4" fill="#555"/>
<path d="M103.6 284.2v2" stroke="#000" stroke-width="0.6"/>
<text x="103.6" y="291.8" font-size="4.9" text-anchor="middle" font-weight="bold" fill="#000">UNS</text>
<text x="102" y="228.5" font-size="7.6" text-anchor="middle" font-weight="bold" fill="#000">*</text>
<text x="105.2" y="228.5" font-size="7.6" text-anchor="middle" font-weight="bold" fill="#000">*</text>
<path d="M23.6 255.2H112" stroke="#000" stroke-width="1.1"/>
<text x="229.6" y="212.2" font-size="16" text-anchor="start" font-weight="normal" fill="#000">D</text>
<text x="253.7" y="209" font-size="7.3" text-anchor="start" font-weight="normal" fill="#000">205TNBC</text>
<text x="253.7" y="217.9" font-size="7.3" text-anchor="start" font-weight="normal" fill="#000">P values of BL2 vs:</text>
<text transform="translate(238.7 254.5) rotate(-90)" font-size="8.3" text-anchor="middle" font-weight="normal">AKT1 mRNA</text>
<path d="M252.5 226V284.1H337.8" stroke="#000" stroke-width="0.9" fill="none"/>
<path d="M250.9 226.2H252.5" stroke="#000" stroke-width="0.6"/>
<text x="250.1" y="227.85" font-size="4.9" text-anchor="end" font-weight="bold" fill="#000">1.0</text>
<path d="M250.9 240.7H252.5" stroke="#000" stroke-width="0.6"/>
<text x="250.1" y="242.35" font-size="4.9" text-anchor="end" font-weight="bold" fill="#000">0.5</text>
<path d="M250.9 255.2H252.5" stroke="#000" stroke-width="0.6"/>
<text x="250.1" y="256.85" font-size="4.9" text-anchor="end" font-weight="bold" fill="#000">0.0</text>
<path d="M250.9 269.6H252.5" stroke="#000" stroke-width="0.6"/>
<text x="250.1" y="271.25" font-size="4.9" text-anchor="end" font-weight="bold" fill="#000">-0.5</text>
<path d="M250.9 284.1H252.5" stroke="#000" stroke-width="0.6"/>
<text x="250.1" y="285.75" font-size="4.9" text-anchor="end" font-weight="bold" fill="#000">-1.0</text>
<path d="M259.9 263.1V280.3M257.9 280.3H261.9" stroke="#333" stroke-width="0.85" fill="none"/>
<rect x="255.6" y="255.2" width="8.6" height="7.9" fill="#000"/>
<path d="M259.9 284.1v2" stroke="#000" stroke-width="0.6"/>
<text x="259.9" y="291.8" font-size="4.9" text-anchor="middle" font-weight="bold" fill="#000">BL1</text>
<text x="259.3" y="228.5" font-size="7.6" text-anchor="middle" font-weight="bold" fill="#000">*</text>
<text x="262.5" y="228.5" font-size="7.6" text-anchor="middle" font-weight="bold" fill="#000">*</text>
<path d="M271.8 248.7V229.2M269.8 229.2H273.8" stroke="#333" stroke-width="0.85" fill="none"/>
<rect x="267.5" y="248.7" width="8.6" height="6.5" fill="#9e9ea3"/>
<path d="M271.8 284.1v2" stroke="#000" stroke-width="0.6"/>
<text x="271.8" y="291.8" font-size="4.9" text-anchor="middle" font-weight="bold" fill="#000">BL2</text>
<path d="M268.3 224.5H275.5" stroke="#000" stroke-width="0.6"/><path d="M267.2 224.5l2.2 -1.5v3zM276.6 224.5l-2.2 -1.5v3z" fill="#000"/>
<path d="M284.4 256.3V274.1M282.4 274.1H286.4" stroke="#333" stroke-width="0.85" fill="none"/>
<rect x="280.1" y="255.2" width="8.6" height="1.1" fill="#444"/>
<path d="M284.4 284.1v2" stroke="#000" stroke-width="0.6"/>
<text x="284.4" y="291.8" font-size="4.9" text-anchor="middle" font-weight="bold" fill="#000">IM</text>
<text x="285.2" y="225.8" font-size="7" text-anchor="middle" font-weight="normal" fill="#000">ns</text>
<path d="M296.1 261.9V274.1M294.1 274.1H298.1" stroke="#333" stroke-width="0.85" fill="none"/>
<rect x="291.8" y="255.2" width="8.6" height="6.7" fill="#dedede"/>
<path d="M296.1 284.1v2" stroke="#000" stroke-width="0.6"/>
<text x="296.1" y="291.8" font-size="4.9" text-anchor="middle" font-weight="bold" fill="#000">M</text>
<text x="297.6" y="228.5" font-size="7.6" text-anchor="middle" font-weight="bold" fill="#000">*</text>
<path d="M308.2 266.6V278.1M306.2 278.1H310.2" stroke="#333" stroke-width="0.85" fill="none"/>
<rect x="303.9" y="255.2" width="8.6" height="11.4" fill="#555"/>
<path d="M308.2 284.1v2" stroke="#000" stroke-width="0.6"/>
<text x="308.2" y="291.8" font-size="4.9" text-anchor="middle" font-weight="bold" fill="#000">MSL</text>
<text x="306.4" y="228.5" font-size="7.6" text-anchor="middle" font-weight="bold" fill="#000">*</text>
<text x="309.6" y="228.5" font-size="7.6" text-anchor="middle" font-weight="bold" fill="#000">*</text>
<path d="M320.5 246.2V234.2M318.5 234.2H322.5" stroke="#333" stroke-width="0.85" fill="none"/>
<rect x="316.2" y="246.2" width="8.6" height="9" fill="#aaaaaa"/>
<path d="M320.5 284.1v2" stroke="#000" stroke-width="0.6"/>
<text x="320.5" y="291.8" font-size="4.9" text-anchor="middle" font-weight="bold" fill="#000">LAR</text>
<text x="321.6" y="225.8" font-size="7" text-anchor="middle" font-weight="normal" fill="#000">ns</text>
<path d="M332.7 264.9V283.6M330.7 283.6H334.7" stroke="#333" stroke-width="0.85" fill="none"/>
<rect x="328.4" y="255.2" width="8.6" height="9.7" fill="#666"/>
<path d="M332.7 284.1v2" stroke="#000" stroke-width="0.6"/>
<text x="332.7" y="291.8" font-size="4.9" text-anchor="middle" font-weight="bold" fill="#000">UNS</text>
<text x="333.1" y="228.5" font-size="7.6" text-anchor="middle" font-weight="bold" fill="#000">*</text>
<path d="M252.5 255.2H337.8" stroke="#000" stroke-width="1.1"/>
<text x="461.2" y="211.8" font-size="16" text-anchor="start" font-weight="normal" fill="#000">E</text>
<text x="481.6" y="209" font-size="7.3" text-anchor="start" font-weight="normal" fill="#000">190TNBC</text>
<text x="481.6" y="218.2" font-size="7.3" text-anchor="start" font-weight="normal" fill="#000">P values of BL2 vs:</text>
<text transform="translate(471 254.5) rotate(-90)" font-size="8.3" text-anchor="middle" font-weight="normal">AKT1 mRNA</text>
<path d="M481.2 225.8V284.1H569.3" stroke="#000" stroke-width="0.9" fill="none"/>
<path d="M479.6 226H481.2" stroke="#000" stroke-width="0.6"/>
<text x="478.8" y="227.65" font-size="4.9" text-anchor="end" font-weight="bold" fill="#000">2</text>
<path d="M479.6 240.7H481.2" stroke="#000" stroke-width="0.6"/>
<text x="478.8" y="242.35" font-size="4.9" text-anchor="end" font-weight="bold" fill="#000">1</text>
<path d="M479.6 255.2H481.2" stroke="#000" stroke-width="0.6"/>
<text x="478.8" y="256.85" font-size="4.9" text-anchor="end" font-weight="bold" fill="#000">0</text>
<path d="M479.6 269.9H481.2" stroke="#000" stroke-width="0.6"/>
<text x="478.8" y="271.55" font-size="4.9" text-anchor="end" font-weight="bold" fill="#000">-1</text>
<path d="M479.6 284.1H481.2" stroke="#000" stroke-width="0.6"/>
<text x="478.8" y="285.75" font-size="4.9" text-anchor="end" font-weight="bold" fill="#000">-2</text>
<path d="M488.8 263.6V278.6M486.8 278.6H490.8" stroke="#8c8c8c" stroke-width="0.95" fill="none"/>
<rect x="484.5" y="255.2" width="8.6" height="8.4" fill="#000"/>
<path d="M488.8 284.1v2" stroke="#000" stroke-width="0.6"/>
<text x="488.8" y="291.8" font-size="4.9" text-anchor="middle" font-weight="bold" fill="#000">BL1</text>
<text x="489.9" y="228.5" font-size="7.6" text-anchor="middle" font-weight="bold" fill="#000">*</text>
<path d="M501.2 252.9V239.5M499.2 239.5H503.2" stroke="#8c8c8c" stroke-width="0.95" fill="none"/>
<rect x="496.9" y="252.9" width="8.6" height="2.3" fill="#aaaaae"/>
<path d="M501.2 284.1v2" stroke="#000" stroke-width="0.6"/>
<text x="501.2" y="291.8" font-size="4.9" text-anchor="middle" font-weight="bold" fill="#000">BL2</text>
<path d="M497.7 224.5H504.9" stroke="#000" stroke-width="0.6"/><path d="M496.6 224.5l2.2 -1.5v3zM506 224.5l-2.2 -1.5v3z" fill="#000"/>
<path d="M512.9 256V276.4M510.9 276.4H514.9" stroke="#8c8c8c" stroke-width="0.95" fill="none"/>
<rect x="508.6" y="255.2" width="8.6" height="0.8" fill="#ddd"/>
<path d="M512.9 284.1v2" stroke="#000" stroke-width="0.6"/>
<text x="512.9" y="291.8" font-size="4.9" text-anchor="middle" font-weight="bold" fill="#000">IM</text>
<text x="514.3" y="225.8" font-size="7" text-anchor="middle" font-weight="normal" fill="#000">ns</text>
<path d="M524.9 257.4V268.4M522.9 268.4H526.9" stroke="#8c8c8c" stroke-width="0.95" fill="none"/>
<rect x="520.6" y="255.2" width="8.6" height="2.2" fill="#ddd"/>
<path d="M524.9 284.1v2" stroke="#000" stroke-width="0.6"/>
<text x="524.9" y="291.8" font-size="4.9" text-anchor="middle" font-weight="bold" fill="#000">M</text>
<text x="526.3" y="225.8" font-size="7" text-anchor="middle" font-weight="normal" fill="#000">ns</text>
<path d="M536.8 259.2V274.4M534.8 274.4H538.8" stroke="#8c8c8c" stroke-width="0.95" fill="none"/>
<rect x="532.5" y="255.2" width="8.6" height="4" fill="#555"/>
<path d="M536.8 284.1v2" stroke="#000" stroke-width="0.6"/>
<text x="536.8" y="291.8" font-size="4.9" text-anchor="middle" font-weight="bold" fill="#000">MSL</text>
<text x="538.2" y="225.8" font-size="7" text-anchor="middle" font-weight="normal" fill="#000">ns</text>
<path d="M549 246.2V231.7M547 231.7H551" stroke="#8c8c8c" stroke-width="0.95" fill="none"/>
<rect x="544.7" y="246.2" width="8.6" height="9" fill="#aaaaaa"/>
<path d="M549 284.1v2" stroke="#000" stroke-width="0.6"/>
<text x="549" y="291.8" font-size="4.9" text-anchor="middle" font-weight="bold" fill="#000">LAR</text>
<text x="549.9" y="225.8" font-size="7" text-anchor="middle" font-weight="normal" fill="#000">ns</text>
<path d="M561 263.6V283.1M559 283.1H563" stroke="#8c8c8c" stroke-width="0.95" fill="none"/>
<rect x="556.7" y="255.2" width="8.6" height="8.4" fill="#555"/>
<path d="M561 284.1v2" stroke="#000" stroke-width="0.6"/>
<text x="561" y="291.8" font-size="4.9" text-anchor="middle" font-weight="bold" fill="#000">UNS</text>
<text x="560.8" y="225.8" font-size="7" text-anchor="middle" font-weight="normal" fill="#000">ns</text>
<path d="M481.2 255.2H569.3" stroke="#000" stroke-width="1.1"/>
<text x="133.2" y="210.3" font-size="7.4" text-anchor="start" font-weight="normal" fill="#000">14BL2</text>
<text x="133.2" y="218.8" font-size="7.4" text-anchor="start" font-weight="normal" fill="#000">HR=3.89; P=0.02</text>
<text transform="translate(118.2 255.4) rotate(-90)" font-size="7.5" text-anchor="middle" font-weight="normal">% survival</text>
<path d="M131.5 227.2V285.1H219.9" stroke="#000" stroke-width="0.9" fill="none"/>
<path d="M129.3 227.4H131.5" stroke="#000" stroke-width="0.6"/>
<text x="128.5" y="229.05" font-size="4.9" text-anchor="end" font-weight="bold" fill="#000">100</text>
<path d="M129.3 241.83H131.5" stroke="#000" stroke-width="0.6"/>
<text x="128.5" y="243.48" font-size="4.9" text-anchor="end" font-weight="bold" fill="#000">75</text>
<path d="M129.3 256.25H131.5" stroke="#000" stroke-width="0.6"/>
<text x="128.5" y="257.9" font-size="4.9" text-anchor="end" font-weight="bold" fill="#000">50</text>
<path d="M129.3 270.68H131.5" stroke="#000" stroke-width="0.6"/>
<text x="128.5" y="272.32" font-size="4.9" text-anchor="end" font-weight="bold" fill="#000">25</text>
<path d="M129.3 285.1H131.5" stroke="#000" stroke-width="0.6"/>
<text x="128.5" y="286.75" font-size="4.9" text-anchor="end" font-weight="bold" fill="#000">0</text>
<path d="M131.5 285.1v2.2" stroke="#000" stroke-width="0.6"/>
<text x="131.5" y="292" font-size="4.9" text-anchor="middle" font-weight="bold" fill="#000">0</text>
<path d="M160.8 285.1v2.2" stroke="#000" stroke-width="0.6"/>
<text x="160.8" y="292" font-size="4.9" text-anchor="middle" font-weight="bold" fill="#000">100</text>
<path d="M190.1 285.1v2.2" stroke="#000" stroke-width="0.6"/>
<text x="190.1" y="292" font-size="4.9" text-anchor="middle" font-weight="bold" fill="#000">200</text>
<path d="M219.4 285.1v2.2" stroke="#000" stroke-width="0.6"/>
<text x="219.4" y="292" font-size="4.9" text-anchor="middle" font-weight="bold" fill="#000">300</text>
<text x="175.7" y="300.4" font-size="5.6" text-anchor="middle" font-weight="bold" fill="#000">Months</text>
<path d="M131.5 227.4 L137.1 227.4 L137.1 234 L142.4 234 L142.4 241.4 L152.4 241.4 L152.4 252.6 L153.6 252.6 L153.6 263 L198.3 263" stroke="#2a2aff" stroke-width="0.95" fill="none" stroke-linejoin="miter"/><path d="M174.3 263.2v-1.4" stroke="#2a2aff" stroke-width="0.7"/><path d="M198.3 263.2v-1.4" stroke="#2a2aff" stroke-width="0.7"/><path d="M147 241.6v-1.4" stroke="#2a2aff" stroke-width="0.7"/>
<path d="M131.5 227.4 L139.4 227.4 L139.4 239 L141.3 239 L141.3 250.2 L143.8 250.2 L143.8 273.5 L146.3 273.5 L146.3 285.1" stroke="#ff2020" stroke-width="0.95" fill="none" stroke-linejoin="miter"/>
<path d="M175 229.3h6.0" stroke="#ff2020" stroke-width="0.9"/>
<path d="M178 229.3v-0.9" stroke="#ff2020" stroke-width="0.8"/>
<text x="184.3" y="230.95" font-size="4.75" text-anchor="start" font-weight="normal" fill="#000">AKT1-CNA-gain</text>
<path d="M175 236.5h6.0" stroke="#2a2aff" stroke-width="0.9"/>
<path d="M178 236.5v-0.9" stroke="#2a2aff" stroke-width="0.8"/>
<text x="184.3" y="238.15" font-size="4.75" text-anchor="start" font-weight="normal" fill="#000">other</text>
<text x="361.8" y="209.8" font-size="7.4" text-anchor="start" font-weight="normal" fill="#000">14BL2</text>
<text x="361.8" y="217.9" font-size="7.4" text-anchor="start" font-weight="normal" fill="#000">HR=3.93; P=0.022</text>
<text transform="translate(346.3 254.4) rotate(-90)" font-size="7.6" text-anchor="middle" font-weight="normal">% survival</text>
<path d="M360.2 226.8V284.5H449.2" stroke="#000" stroke-width="0.9" fill="none"/>
<path d="M358 227H360.2" stroke="#000" stroke-width="0.6"/>
<text x="357.2" y="228.65" font-size="4.9" text-anchor="end" font-weight="bold" fill="#000">100</text>
<path d="M358 241.38H360.2" stroke="#000" stroke-width="0.6"/>
<text x="357.2" y="243.03" font-size="4.9" text-anchor="end" font-weight="bold" fill="#000">75</text>
<path d="M358 255.75H360.2" stroke="#000" stroke-width="0.6"/>
<text x="357.2" y="257.4" font-size="4.9" text-anchor="end" font-weight="bold" fill="#000">50</text>
<path d="M358 270.12H360.2" stroke="#000" stroke-width="0.6"/>
<text x="357.2" y="271.77" font-size="4.9" text-anchor="end" font-weight="bold" fill="#000">25</text>
<path d="M358 284.5H360.2" stroke="#000" stroke-width="0.6"/>
<text x="357.2" y="286.15" font-size="4.9" text-anchor="end" font-weight="bold" fill="#000">0</text>
<path d="M360.2 284.5v2.2" stroke="#000" stroke-width="0.6"/>
<text x="360.2" y="292" font-size="4.9" text-anchor="middle" font-weight="bold" fill="#000">0</text>
<path d="M389.7 284.5v2.2" stroke="#000" stroke-width="0.6"/>
<text x="389.7" y="292" font-size="4.9" text-anchor="middle" font-weight="bold" fill="#000">100</text>
<path d="M419.2 284.5v2.2" stroke="#000" stroke-width="0.6"/>
<text x="419.2" y="292" font-size="4.9" text-anchor="middle" font-weight="bold" fill="#000">200</text>
<path d="M448.7 284.5v2.2" stroke="#000" stroke-width="0.6"/>
<text x="448.7" y="292" font-size="4.9" text-anchor="middle" font-weight="bold" fill="#000">300</text>
<text x="404" y="300.4" font-size="5.6" text-anchor="middle" font-weight="bold" fill="#000">Months</text>
<path d="M360.2 227 L368.6 227 L368.6 233.5 L370.9 233.5 L370.9 239.3 L373.3 239.3 L373.3 245.6 L381.4 245.6 L381.4 255.3 L382.6 255.3 L382.6 264.9 L426.7 264.9" stroke="#2a2aff" stroke-width="0.95" fill="none" stroke-linejoin="miter"/><path d="M403.5 265.1v-1.4" stroke="#2a2aff" stroke-width="0.7"/><path d="M426.7 265.1v-1.4" stroke="#2a2aff" stroke-width="0.7"/>
<path d="M360.2 227 L365.8 227 L365.8 241.4 L369.5 241.4 L369.5 255.3 L372.8 255.3 L372.8 270 L374.7 270 L374.7 284.5" stroke="#ff2020" stroke-width="0.95" fill="none" stroke-linejoin="miter"/>
<path d="M403.6 228.3h6.0" stroke="#ff2020" stroke-width="0.9"/>
<path d="M406.6 228.3v-0.9" stroke="#ff2020" stroke-width="0.8"/>
<text x="412.9" y="229.95" font-size="4.75" text-anchor="start" font-weight="normal" fill="#000">AKT1-mRNA-high</text>
<path d="M403.6 236.1h6.0" stroke="#2a2aff" stroke-width="0.9"/>
<path d="M406.6 236.1v-0.9" stroke="#2a2aff" stroke-width="0.8"/>
<text x="412.9" y="237.75" font-size="4.75" text-anchor="start" font-weight="normal" fill="#000">AKT1-mRNA-low</text>
<text x="591.7" y="208.7" font-size="7.4" text-anchor="start" font-weight="normal" fill="#000">10BL2</text>
<text x="591.7" y="217.2" font-size="7.4" text-anchor="start" font-weight="normal" fill="#000">HR=6.11; P=0.032</text>
<text transform="translate(575.6 253.8) rotate(-90)" font-size="8.0" text-anchor="middle" font-weight="normal">% survival</text>
<path d="M590.3 225.3V283.9H678.4" stroke="#666" stroke-width="0.9" fill="none"/>
<path d="M588.1 225.5H590.3" stroke="#000" stroke-width="0.6"/>
<text x="587.3" y="227.15" font-size="4.9" text-anchor="end" font-weight="bold" fill="#000">100</text>
<path d="M588.1 240.1H590.3" stroke="#000" stroke-width="0.6"/>
<text x="587.3" y="241.75" font-size="4.9" text-anchor="end" font-weight="bold" fill="#000">75</text>
<path d="M588.1 254.7H590.3" stroke="#000" stroke-width="0.6"/>
<text x="587.3" y="256.35" font-size="4.9" text-anchor="end" font-weight="bold" fill="#000">50</text>
<path d="M588.1 269.3H590.3" stroke="#000" stroke-width="0.6"/>
<text x="587.3" y="270.95" font-size="4.9" text-anchor="end" font-weight="bold" fill="#000">25</text>
<path d="M588.1 283.9H590.3" stroke="#000" stroke-width="0.6"/>
<text x="587.3" y="285.55" font-size="4.9" text-anchor="end" font-weight="bold" fill="#000">0</text>
<path d="M590.3 283.9v2.2" stroke="#000" stroke-width="0.6"/>
<text x="590.3" y="292" font-size="4.9" text-anchor="middle" font-weight="bold" fill="#000">0</text>
<path d="M619.5 283.9v2.2" stroke="#000" stroke-width="0.6"/>
<text x="619.5" y="292" font-size="4.9" text-anchor="middle" font-weight="bold" fill="#000">100</text>
<path d="M648.7 283.9v2.2" stroke="#000" stroke-width="0.6"/>
<text x="648.7" y="292" font-size="4.9" text-anchor="middle" font-weight="bold" fill="#000">200</text>
<path d="M677.9 283.9v2.2" stroke="#000" stroke-width="0.6"/>
<text x="677.9" y="292" font-size="4.9" text-anchor="middle" font-weight="bold" fill="#000">300</text>
<text x="634" y="300.4" font-size="5.6" text-anchor="middle" font-weight="bold" fill="#000">Months</text>
<path d="M590.3 225.5 L625.8 225.5" stroke="#2a2aff" stroke-width="0.95" fill="none" stroke-linejoin="miter"/><path d="M613.4 225.7v-1.4" stroke="#2a2aff" stroke-width="0.7"/><path d="M625.8 225.7v-1.4" stroke="#2a2aff" stroke-width="0.7"/>
<path d="M590.3 225.5 L592.5 225.5 L592.5 234.4 L593.3 234.4 L593.3 242.3 L599.2 242.3 L599.2 250.5 L602.4 250.5 L602.4 258.9 L606.4 258.9 L606.4 267.5 L611.4 267.5 L611.4 275.2 L645.7 275.2" stroke="#ff2020" stroke-width="0.95" fill="none" stroke-linejoin="miter"/><path d="M645.7 275.4v-1.4" stroke="#ff2020" stroke-width="0.7"/>
<path d="M632 230.6h6.0" stroke="#ff2020" stroke-width="0.9"/>
<path d="M635 230.6v-0.9" stroke="#ff2020" stroke-width="0.8"/>
<text x="641.3" y="232.25" font-size="4.75" text-anchor="start" font-weight="normal" fill="#000">AKT1-mRNA-high</text>
<path d="M632 238.4h6.0" stroke="#2a2aff" stroke-width="0.9"/>
<path d="M635 238.4v-0.9" stroke="#2a2aff" stroke-width="0.8"/>
<text x="641.3" y="240.05" font-size="4.75" text-anchor="start" font-weight="normal" fill="#000">AKT1-mRNA-low</text>
</svg>
</body></html>
